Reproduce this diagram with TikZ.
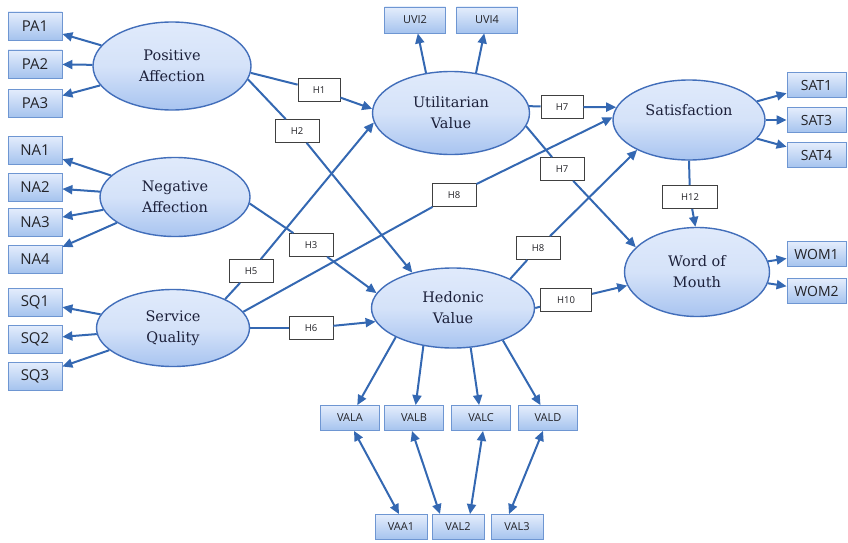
\documentclass[tikz,border=0pt]{standalone}
\usepackage{fontspec}
\newfontfamily\boxfont{Open Sans}
\newfontfamily\ellfont{DejaVu Serif}
\usetikzlibrary{arrows.meta,shapes.geometric}
\definecolor{lineblue}{RGB}{52,104,178}
\definecolor{ellborder}{RGB}{66,110,186}
\definecolor{elltop}{RGB}{224,234,251}
\definecolor{ellbot}{RGB}{168,196,240}
\definecolor{boxborder}{RGB}{110,150,210}
\definecolor{boxtop}{RGB}{228,237,252}
\definecolor{boxbot}{RGB}{165,195,238}
\definecolor{elltext}{RGB}{28,32,58}
\definecolor{boxtext}{RGB}{35,35,40}
\begin{document}
\begin{tikzpicture}[x=1pt,y=-1pt,
  latent/.style={ellipse, draw=ellborder, line width=1.4pt, top color=elltop, bottom color=ellbot, middle color=elltop!80!ellbot, inner sep=0pt, align=center, text=elltext, font=\ellfont\fontsize{14.5}{21}\selectfont},
  ind/.style={rectangle, draw=boxborder, line width=0.8pt, top color=boxtop, bottom color=boxbot, inner sep=0pt, text=boxtext},
  indL/.style={ind, minimum width=54pt, minimum height=28pt, font=\boxfont\fontsize{15}{17}\selectfont},
  indR/.style={ind, minimum width=59pt, minimum height=25pt, font=\boxfont\fontsize{14}{16}\selectfont},
  indS/.style={ind, minimum height=25pt, font=\boxfont\fontsize{11}{13}\selectfont},
  hyp/.style={rectangle, draw=black!75, line width=0.8pt, fill=white, inner sep=0pt, minimum width=44pt, minimum height=23pt, text=boxtext, font=\boxfont\fontsize{9.5}{11}\selectfont},
  conn/.style={draw=lineblue, line width=2pt},
  arr/.style={conn, -{Triangle[length=10pt,width=9pt]}},
  darr/.style={conn, {Triangle[length=10pt,width=9pt]}-{Triangle[length=10pt,width=9pt]}}
]
\useasboundingbox (0,0) rectangle (848,543);

% latent variables
\node[latent, minimum width=158pt, minimum height=88pt] (PA) at (172,66) {Positive\\Affection};
\node[latent, minimum width=150pt, minimum height=79pt] (NA) at (175,197) {Negative\\Affection};
\node[latent, minimum width=153pt, minimum height=77pt] (SQ) at (173,328) {Service\\Quality};
\node[latent, minimum width=157pt, minimum height=83pt] (UV) at (451,113) {Utilitarian\\Value};
\node[latent, minimum width=163pt, minimum height=80pt] (HV) at (453,308) {Hedonic\\Value};
\node[latent, minimum width=152pt, minimum height=80pt] (ST) at (689,120) {Satisfaction\\\mbox{}};
\node[latent, minimum width=145pt, minimum height=89pt] (WM) at (697,272) {Word of\\Mouth};

% indicators left
\node[indL] (PA1) at (35,26) {PA1};
\node[indL] (PA2) at (35,64) {PA2};
\node[indL] (PA3) at (35,103) {PA3};
\node[indL] (NA1) at (35,150) {NA1};
\node[indL] (NA2) at (35,187) {NA2};
\node[indL] (NA3) at (35,222) {NA3};
\node[indL] (NA4) at (35,259) {NA4};
\node[indL] (SQ1) at (35,302) {SQ1};
\node[indL] (SQ2) at (35,339) {SQ2};
\node[indL] (SQ3) at (35,376) {SQ3};

% indicators top
\node[indS, minimum width=61pt, minimum height=26pt] (UVI2) at (415,20) {UVI2};
\node[indS, minimum width=61pt, minimum height=26pt] (UVI4) at (487,20) {UVI4};

% indicators right
\node[indR] (SAT1) at (816.5,85) {SAT1};
\node[indR] (SAT3) at (816.5,120) {SAT3};
\node[indR] (SAT4) at (816.5,155) {SAT4};
\node[indR] (WOM1) at (816.5,254) {WOM1};
\node[indR] (WOM2) at (816.5,291) {WOM2};

% indicators bottom
\node[indS, minimum width=59pt] (VALA) at (350,418) {VALA};
\node[indS, minimum width=59pt] (VALB) at (414,418) {VALB};
\node[indS, minimum width=59pt] (VALC) at (481,418) {VALC};
\node[indS, minimum width=59pt] (VALD) at (548,418) {VALD};
\node[indS, minimum width=52pt] (VAA1) at (401,527) {VAA1};
\node[indS, minimum width=52pt] (VAL2) at (458,527) {VAL2};
\node[indS, minimum width=52pt] (VAL3) at (517,527) {VAL3};

% hypothesis labels
\node[hyp, minimum width=42pt] (H1) at (319,90) {H1};
\node[hyp] (H2) at (297,131) {H2};
\node[hyp] (H3) at (311,245) {H3};
\node[hyp] (H5) at (251,271) {H5};
\node[hyp] (H6) at (311,328) {H6};
\node[hyp, minimum width=42pt] (H7a) at (562,107) {H7};
\node[hyp] (H7b) at (562,169) {H7};
\node[hyp] (H8a) at (454,195) {H8};
\node[hyp] (H8b) at (538,248) {H8};
\node[hyp, minimum width=51pt] (H10) at (566,300) {H10};
\node[hyp, minimum width=55pt] (H12) at (690,197) {H12};

% measurement arrows
\draw[arr] (PA) -- (PA1);
\draw[arr] (PA) -- (PA2);
\draw[arr] (PA) -- (PA3);
\draw[arr] (NA) -- (NA1);
\draw[arr] (NA) -- (NA2);
\draw[arr] (NA) -- (NA3);
\draw[arr] (NA) -- (NA4);
\draw[arr] (SQ) -- (SQ1);
\draw[arr] (SQ) -- (SQ2);
\draw[arr] (SQ) -- (SQ3);
\draw[arr] (UV.122) -- (UVI2);
\draw[arr] (UV.58) -- (UVI4);
\draw[arr] (ST) -- (SAT1);
\draw[arr] (ST) -- (SAT3);
\draw[arr] (ST) -- (SAT4);
\draw[arr] (WM) -- (WOM1);
\draw[arr] (WM) -- (WOM2);
\draw[arr] (HV.207) -- (VALA);
\draw[arr] (HV.232) -- (VALB);
\draw[arr] (HV.294) -- (VALC);
\draw[arr] (HV.327) -- (VALD);
\draw[darr] ([xshift=4pt]VALA.south) -- ([xshift=-2pt]VAA1.north);
\draw[darr] ([xshift=-2pt]VALB.south) -- ([xshift=-18pt]VAL2.north);
\draw[darr] ([xshift=2pt]VALC.south) -- ([xshift=12pt]VAL2.north);
\draw[darr] ([xshift=-5pt]VALD.south) -- ([xshift=-8pt]VAL3.north);

% structural paths
\draw[conn] (PA.355) -- (H1);  \draw[arr] (H1) -- (UV.177);
\draw[conn] (PA.350) -- (H2);  \draw[arr] (H2) -- (HV.139);
\draw[conn] (NA.355) -- (H3);  \draw[arr] (H3) -- (HV.169);
\draw[conn] (SQ.29) -- (H5);   \draw[arr] (H5) -- (UV.187);
\draw[conn] (SQ.0) -- (H6);    \draw[arr] (H6) -- (HV.190);
\draw[conn] (SQ.13) -- (H8a);  \draw[arr] (H8a) -- (ST.178);
\draw[conn] (UV.5) -- (H7a);   \draw[arr] (H7a) -- (ST.170);
\draw[conn] (UV.350) -- (H7b); \draw[arr] (H7b) -- (WM.158);
\draw[conn] (HV.27) -- (H8b);  \draw[arr] (H8b) -- (ST.210);
\draw[conn] (HV.0) -- (H10);   \draw[arr] (H10) -- (WM.191);
\draw[conn] (ST.270) -- (H12); \draw[arr] (H12) -- (WM.92);
\end{tikzpicture}
\end{document}
